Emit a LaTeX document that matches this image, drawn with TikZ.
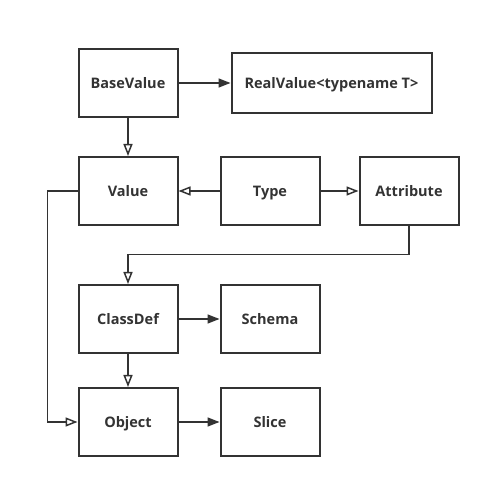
\documentclass[tikz,border=0pt]{standalone}
\usepackage{fontspec}
\setmainfont{Open Sans}
\usepackage{tikz}
\usetikzlibrary{positioning, arrows.meta}
\definecolor{ink}{HTML}{333333}
\tikzset{block/.style = {draw=ink, line width=2pt, minimum width=99pt, minimum height=68pt, inner sep=0pt, text height=12pt, text depth=0.5pt, text=ink, font=\fontsize{14.5}{16}\selectfont\bfseries}}
\tikzset{wide/.style = {block, minimum width=200pt, minimum height=60.5pt}}
\tikzset{owns/.style = {draw=ink, line width=1.5pt, -{Triangle[length=12pt, width=9pt]}}}
\tikzset{isa/.style = {draw=ink, line width=1.5pt, -{Triangle[open, length=12pt, width=9pt]}}}

\begin{document}
\begin{tikzpicture}[x=1pt, y=-1pt]
  \useasboundingbox (0,0) rectangle (491,489);
  \node [block] (base) at (128,83) {BaseValue};
  \node [wide, right=52pt of base] (real) {RealValue<typename T>};
  \node [block, below=38pt of base] (value) {Value};
  \node [block, right=41pt of value] (type) {Type};
  \node [block, right=38pt of type] (attr) {Attribute};
  \node [block, below=58pt of value] (classdef) {ClassDef};
  \node [block, right=41pt of classdef] (schema) {Schema};
  \node [block, below=33pt of classdef] (object) {Object};
  \node [block, right=41pt of object] (slice) {Slice};

  \coordinate (bend) at (47.5,0);
  \coordinate (turn) at (0,254.5);

  \path[owns] (base) -- (real);
  \path[isa] (base) -- (value);
  \path[isa] (type) -- (value);
  \path[isa] (type) -- (attr);
  \path[isa] (attr.south) |- (turn -| classdef) -- (classdef.north);
  \path[owns] (classdef) -- (schema);
  \path[isa] (classdef) -- (object);
  \path[isa] (value.west) -- (value.west -| bend) |- (object.west);
  \path[owns] (object) -- (slice);
\end{tikzpicture}
\end{document}
